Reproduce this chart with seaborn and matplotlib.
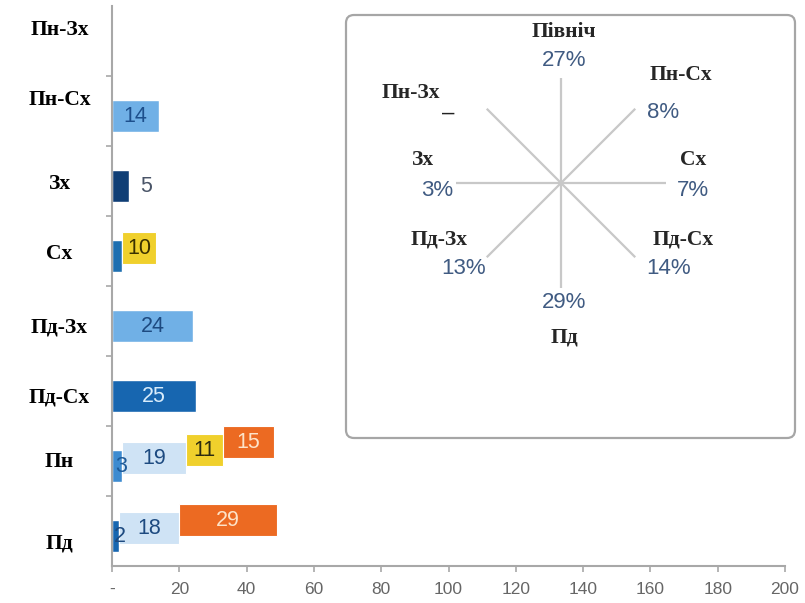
import numpy as np
import matplotlib.pyplot as plt
import matplotlib.transforms as mtransforms
import seaborn as sns
from matplotlib.patches import FancyBboxPatch

# дані гістограми
rows = ["Пн-Зх", "Пн-Сх", "Зх", "Сх", "Пд-Зх", "Пд-Сх", "Пн", "Пд"]
seg_values = [
    [],
    [14],
    [5],
    [3, 10],
    [24],
    [25],
    [3, 19, 11, 15],
    [2, 18, 29],
]
seg_labels = [
    [],
    ["14"],
    ["5"],
    ["", "10"],
    ["24"],
    ["25"],
    ["3", "19", "11", "15"],
    ["2", "18", "29"],
]
x_ticks = list(range(0, 201, 20))
x_ticklabels = ["-"] + [str(t) for t in x_ticks[1:]]

# дані "рози вітрів"
directions = ["Північ", "Пн-Сх", "Сх", "Пд-Сх", "Пд", "Пд-Зх", "Зх", "Пн-Зх"]
shares = ["27%", "8%", "7%", "14%", "29%", "13%", "3%", "–"]
angles = [0, 45, 90, 135, 180, 225, 270, 315]

# кольори
LB = "#70b0e6"
NAVY = "#0f3e75"
MB = "#1e6fb0"
MB2 = "#3d8bd0"
DB = "#1766b0"
PALE = "#cfe3f5"
YEL = "#f0d02c"
ORG = "#ec6a22"
seg_colors = [
    [],
    [LB],
    [NAVY],
    [MB, YEL],
    [LB],
    [DB],
    [MB2, PALE, YEL, ORG],
    [DB, PALE, ORG],
]
DK = "#1d4a80"
PEACH = "#fde3c8"
txt_colors = [
    [],
    ["#1d4f8c"],
    ["#4a5568"],
    ["", "#3a3000"],
    [DK],
    ["#d8ecfb"],
    ["#1d5a98", DK, "#2b2b10", PEACH],
    [DK, DK, PEACH],
]

sns.set_style("white")
plt.rcParams["font.family"] = ["Liberation Sans", "DejaVu Sans"]

fig = plt.figure(figsize=(8.05, 6.03), dpi=100)
ax = fig.add_axes([112 / 805, 1 - 566 / 603, 673 / 805, 560 / 603])

BAR_H = 0.46
band_px = 70.0


def seg_off(i):
    return (5 - 8 * i) / band_px


# базові сегменти через seaborn
base_vals = [v[0] if v else 0 for v in seg_values]
base_cols = [c[0] if c else "white" for c in seg_colors]
sns.barplot(x=base_vals, y=rows, hue=rows, palette=base_cols, legend=False,
            orient="h", width=BAR_H, saturation=1, errorbar=None, ax=ax)
for p in ax.patches:
    p.set_y(p.get_y() + seg_off(0))

# решта сегментів
for r, vals in enumerate(seg_values):
    left = 0
    for i, v in enumerate(vals):
        y = r + seg_off(i)
        if i > 0:
            ax.barh(y, v, left=left, height=BAR_H, color=seg_colors[r][i],
                    edgecolor="white", linewidth=0.8)
        lab = seg_labels[r][i]
        if lab:
            if rows[r] == "Зх":
                tx = left + v + 5
            elif v < 5:
                tx = left + v / 2 + 1.2
            else:
                tx = left + v / 2
            ax.text(tx, y, lab, ha="center", va="center", fontsize=15.5,
                    color=txt_colors[r][i])
        left += v

ax.set_xlim(0, 200)
ax.set_ylim(7.5, -0.5)
ax.set_xticks(x_ticks)
ax.set_xticklabels(x_ticklabels, color="#666666", fontsize=12.5)
ax.set_yticks(np.arange(0.5, len(rows) - 1, 1))
ax.set_yticklabels([])
ax.tick_params(axis="y", length=4.5, width=1.2, color="#a8a8a8", left=True)
ax.tick_params(axis="x", length=4.5, width=1.2, color="#a8a8a8", bottom=True, pad=7)
ax.set_xlabel("")
ax.set_ylabel("")
sns.despine(ax=ax)
for s in ["left", "bottom"]:
    ax.spines[s].set_color("#a8a8a8")
    ax.spines[s].set_linewidth(1.5)

# підписи категорій
label_dy = [-11, -11, 3, 3, 6, 6, 1, 13]
trans = mtransforms.blended_transform_factory(ax.transAxes, ax.transData)
for r, name in enumerate(rows):
    ax.text(-0.078, r + label_dy[r] / band_px, name, transform=trans,
            ha="center", va="center", family=["Liberation Serif"],
            fontweight="bold", fontsize=15.5, color="black", clip_on=False)

# вставка з розою вітрів (піксельні координати)
ov = fig.add_axes([0, 0, 1, 1])
ov.set_xlim(0, 805)
ov.set_ylim(603, 0)
ov.axis("off")
ov.add_patch(FancyBboxPatch((346, 15), 449, 423,
                            boxstyle="round,pad=0,rounding_size=8",
                            facecolor="white", edgecolor="#a6a6a6", linewidth=1.6))

cx, cy, rad = 561, 183, 105
name_off = [(3, 151), (120, 108), (132, 23), (122, -57), (3, -154), (-122, -57), (-138, 23), (-150, 90)]
pct_off = [(3, 123), (102, 70), (132, -7), (108, -85), (3, -119), (-97, -85), (-124, -7), (-113, 70)]
for k, a in enumerate(angles):
    t = np.deg2rad(a)
    ov.plot([cx, cx + rad * np.sin(t)], [cy, cy - rad * np.cos(t)],
            color="#c8c8c8", lw=1.6, solid_capstyle="butt")
    nx, ny = name_off[k]
    ov.text(cx + nx, cy - ny, directions[k], ha="center", va="center",
            family=["Liberation Serif"], fontweight="bold", fontsize=15.5)
    px, py = pct_off[k]
    pc = "#222222" if shares[k] == "–" else "#405b82"
    ov.text(cx + px, cy - py, shares[k], ha="center", va="center",
            fontsize=16, color=pc)

fig.savefig("out.png", dpi=100)
